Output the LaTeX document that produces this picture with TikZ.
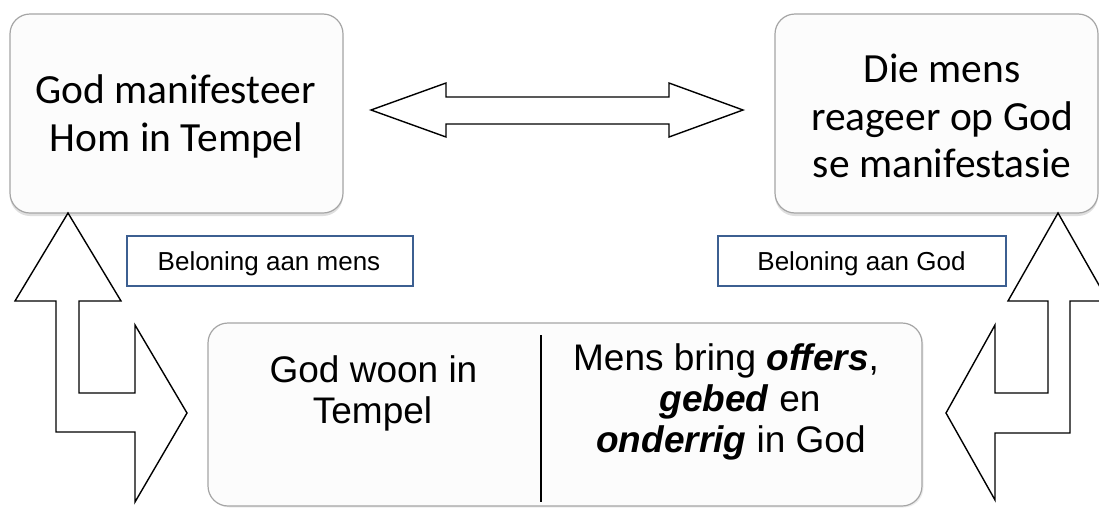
\documentclass[tikz,border=0pt]{standalone}
\usepackage{fontspec}
\newfontfamily\carl{Carlito}
\newfontfamily\arialf{Liberation Sans}
\usetikzlibrary{shadows}
\definecolor{boxgray}{RGB}{165,165,165}
\definecolor{labelblue}{RGB}{60,95,145}
\definecolor{boxfill}{RGB}{252,252,252}
\begin{document}
\begin{tikzpicture}[x=1pt,y=-1pt,
  topbox/.style={draw=boxgray, line width=1.2pt, rounded corners=20pt, fill=boxfill,
    inner sep=0pt, drop shadow={shadow xshift=0pt, shadow yshift=-3pt, opacity=0.25}},
  botbox/.style={draw=boxgray, line width=1.2pt, rounded corners=20pt, fill=boxfill,
    inner sep=0pt, drop shadow={shadow xshift=1.5pt, shadow yshift=-1.5pt, opacity=0.15}},
  lblbox/.style={draw=labelblue, line width=1.2pt, fill=white, inner sep=0pt},
  toptext/.style={anchor=base, inner sep=0pt, font=\carl\fontsize{41.5}{48}\selectfont},
  bottext/.style={anchor=base, inner sep=0pt, font=\arialf\fontsize{37}{41}\selectfont},
  lbltext/.style={anchor=base, inner sep=0pt, font=\arialf\fontsize{26}{30}\selectfont},
  blockarrow/.style={draw=black, line width=1.4pt, fill=white, line join=miter},
  divider/.style={draw=black, line width=1.2pt}
]
\useasboundingbox (0,0) rectangle (1099,509);
\clip (0,0) rectangle (1099,509);

% top boxes
\node[topbox, minimum width=333pt, minimum height=199pt] (gm) at (176.5,113.5) {};
\node[topbox, minimum width=323pt, minimum height=199pt] (dm) at (936.5,113.5) {};
\node[toptext] (gm1) at (175.5,103) {God manifesteer};
\node[toptext] (gm2) at (176.5,151) {Hom in Tempel};
\node[toptext] (dm1) at (942,82) {Die mens};
\node[toptext] (dm2) at (942,130) {reageer op God};
\node[toptext] (dm3) at (942,177) {se manifestasie};

% double arrow between top boxes
\draw[blockarrow] (371,110) -- (446,83) -- (446,97) -- (669,97) -- (669,83) -- (743,110)
  -- (669,137) -- (669,124) -- (446,124) -- (446,137) -- cycle;

% label boxes
\node[lblbox, minimum width=286pt, minimum height=50pt] (bm) at (270,261) {};
\node[lbltext] (bmt) at (269,270) {Beloning aan mens};
\node[lblbox, minimum width=288pt, minimum height=50pt] (bg) at (862,261) {};
\node[lbltext] (bgt) at (861.5,270) {Beloning aan God};

% bottom box
\node[botbox, minimum width=714pt, minimum height=183pt] (bb) at (565,414.5) {};
\coordinate (dtop) at (541,335);
\coordinate (dbot) at (541,502);
\draw[divider] (dtop) -- (dbot);
\node[bottext] (l1) at (373.5,382) {God woon in};
\node[bottext] (l2) at (372.5,423) {Tempel};
\node[bottext] (r1) at (726,370) {Mens bring \textbf{\textit{offers}},};
\node[bottext] (r2) at (740,411) {\textbf{\textit{gebed}} en};
\node[bottext] (r3) at (731,452) {\textbf{\textit{onderrig}} in God};

% elbow block arrows
\draw[blockarrow] (68,213) -- (121,301) -- (79,301) -- (79,393) -- (135,393) -- (135,325)
  -- (187,413) -- (135,502) -- (135,432) -- (56,432) -- (56,301) -- (15,301) -- cycle;
\draw[blockarrow] (1058,213) -- (1108,301) -- (1070,301) -- (1070,433) -- (995,433)
  -- (995,500) -- (946,413) -- (995,325) -- (995,393) -- (1048,393) -- (1048,301)
  -- (1008,301) -- cycle;
\end{tikzpicture}
\end{document}
